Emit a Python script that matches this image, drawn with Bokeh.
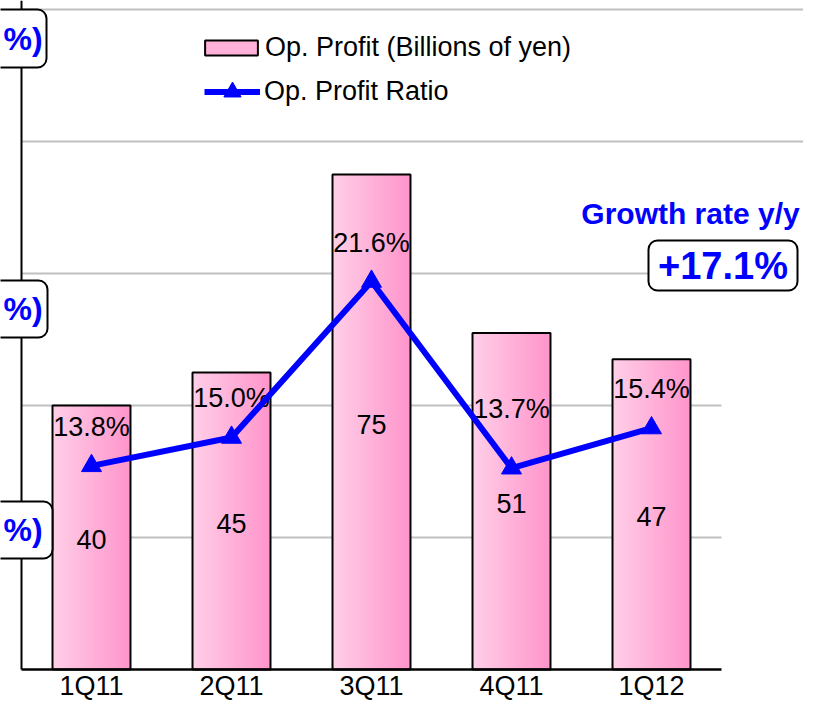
from bokeh.plotting import figure
from bokeh.models import Range1d, ColumnDataSource, Label, BoxAnnotation, Legend, LegendItem
from bokeh.core.properties import value
from bokeh.embed import file_html
from bokeh.resources import INLINE

# ---- data -------------------------------------------------------------
categories = ["1Q11", "2Q11", "3Q11", "4Q11", "1Q12"]
op_profit = [40, 45, 75, 51, 47]                 # billions of yen
op_ratio = [13.8, 15.0, 21.6, 13.7, 15.4]        # %
ratio_text = ["13.8%", "15.0%", "21.6%", "13.7%", "15.4%"]
profit_text = ["40", "45", "75", "51", "47"]
grid_values = [20, 40, 60, 80, 100]
growth_title = "Growth rate y/y"
growth_text = "+17.1%"
side_box_text = ["%)", "%)", "%)"]

# ---- layout / style --------------------------------------------------------
W, H = 803, 701
CAT_PX = 140.0          # px per category
X0_PX = 91.0            # px of first category centre
Y_PX = 6.6              # px per billion yen
ZERO_PX = 669.0         # px of zero line
R_PX = 23.63            # px per percent (ratio axis)
R_REF, R_REF_PX = 13.75, 466.5

FONT = "Liberation Sans"
BLUE = "#0000FF"
BAR_W = 0.557

n = len(categories)
xs = list(range(n))
x_range = Range1d(-X0_PX / CAT_PX, (W - X0_PX) / CAT_PX)
y_range = Range1d(-(H - ZERO_PX) / Y_PX, ZERO_PX / Y_PX)
ratio_range = Range1d(R_REF - (H - R_REF_PX) / R_PX, R_REF + R_REF_PX / R_PX)


def px_to_x(px):
    return (px - X0_PX) / CAT_PX


def px_to_y(py):
    return (ZERO_PX - py) / Y_PX


p = figure(width=W, height=H, x_range=x_range, y_range=y_range,
           x_axis_type=None, y_axis_type=None,
           output_backend="svg", toolbar_location=None, min_border=0)
p.extra_y_ranges = {"ratio": ratio_range}
p.outline_line_color = None
p.background_fill_color = "white"
p.border_fill_color = "white"

cat_lo, cat_hi = -0.5, n - 0.5

# gridlines
grid_right = [cat_hi if v <= 60 else x_range.end for v in grid_values]
p.segment(x0=[cat_lo] * len(grid_values), y0=grid_values, x1=grid_right, y1=grid_values,
          line_color="#C0C0C0", line_width=2)

# left axis line
p.segment(x0=[cat_lo], y0=[0], x1=[cat_lo], y1=[y_range.end], line_color="black", line_width=2)

# bars with horizontal gradient (one renderer per strip)
N_STRIPS = 24
c_left = (255, 206, 231)
c_right = (255, 150, 204)
sw = BAR_W / N_STRIPS
strip_renderers = []
for j in range(N_STRIPS):
    t = j / (N_STRIPS - 1)
    col = "#%02X%02X%02X" % tuple(int(round(a + (b - a) * t)) for a, b in zip(c_left, c_right))
    sx = [i - BAR_W / 2 + (j + 0.5) * sw for i in xs]
    r = p.vbar(x=sx, top=op_profit, bottom=0, width=sw * 1.25, fill_color=col, line_color=None)
    strip_renderers.append(r)
outline_r = p.vbar(x=xs, top=op_profit, bottom=0, width=BAR_W, fill_color=None,
                   line_color="black", line_width=2)

# baseline
p.segment(x0=[cat_lo], y0=[0], x1=[cat_hi], y1=[0], line_color="black", line_width=2.5)

# value labels in bars
p.text(x=xs, y=[v / 2 for v in op_profit], text=profit_text, y_offset=2,
       text_font=value(FONT), text_font_size="27px", text_color="black",
       text_align="center", text_baseline="middle")

# ratio labels
ratio_offsets = [-39, -39, -39, -59, -39]
src_r = ColumnDataSource(dict(x=xs, y=op_ratio, t=ratio_text, off=ratio_offsets))
p.text(x="x", y="y", text="t", y_offset="off", source=src_r, y_range_name="ratio",
       text_font=value(FONT), text_font_size="27px", text_color="black",
       text_align="center", text_baseline="middle")

# ratio line
line_r = p.line(x=xs, y=op_ratio, y_range_name="ratio", line_color=BLUE, line_width=6)
mark_r = p.scatter(x=xs, y=op_ratio, y_range_name="ratio", marker="triangle", size=20,
                   fill_color=BLUE, line_color=BLUE)

# category labels
p.text(x=xs, y=[0] * n, text=categories, y_offset=16,
       text_font=value(FONT), text_font_size="27px", text_color="black",
       text_align="center", text_baseline="middle")

leg1 = Legend(items=[LegendItem(label="Op. Profit (Billions of yen)",
                                renderers=[strip_renderers[N_STRIPS // 2], outline_r])],
              location=(198, 638), orientation="vertical",
              glyph_width=66, glyph_height=19, label_standoff=1,
              padding=0, margin=0, spacing=0, border_line_color=None,
              background_fill_alpha=0, label_text_font=FONT, label_text_font_size="27px",
              label_text_color="black")
leg2 = Legend(items=[LegendItem(label="Op. Profit Ratio", renderers=[line_r, mark_r])],
              location=(204, 588), orientation="vertical",
              glyph_width=56, glyph_height=43, label_standoff=4,
              padding=0, margin=0, spacing=0, border_line_color=None,
              background_fill_alpha=0, label_text_font=FONT, label_text_font_size="27px",
              label_text_color="black")
p.add_layout(leg1, "center")
p.add_layout(leg2, "center")

# side boxes (labels at the left edge)
side_boxes = [  # (right_px, top_px, bottom_px)
    (46, 9, 67),
    (47, 280, 337),
    (52, 501, 558),
]
for (rp, tp, bp), txt in zip(side_boxes, side_box_text):
    p.add_layout(BoxAnnotation(left=x_range.start - 1, right=px_to_x(rp),
                               top=px_to_y(tp), bottom=px_to_y(bp),
                               fill_color="white", fill_alpha=1,
                               line_color="black", line_alpha=1, line_width=2,
                               border_radius=9))
    p.add_layout(Label(x=px_to_x(3), y=px_to_y((tp + bp) / 2), text=txt,
                       text_font=FONT, text_font_style="bold", text_font_size="32px",
                       text_color=BLUE, text_align="left", text_baseline="middle"))

# growth rate annotation
p.add_layout(Label(x=px_to_x(690), y=px_to_y(213), text=growth_title,
                   text_font=FONT, text_font_style="bold", text_font_size="30px",
                   text_color=BLUE, text_align="center", text_baseline="middle"))
p.add_layout(BoxAnnotation(left=px_to_x(648), right=px_to_x(797),
                           top=px_to_y(240), bottom=px_to_y(290),
                           fill_color="white", fill_alpha=1,
                           line_color="black", line_alpha=1, line_width=2, border_radius=9))
p.add_layout(Label(x=px_to_x(722.5), y=px_to_y(265), text=growth_text,
                   text_font=FONT, text_font_style="bold", text_font_size="38px",
                   text_color=BLUE, text_align="center", text_baseline="middle"))

open("out.html", "w").write(file_html(p, INLINE))
